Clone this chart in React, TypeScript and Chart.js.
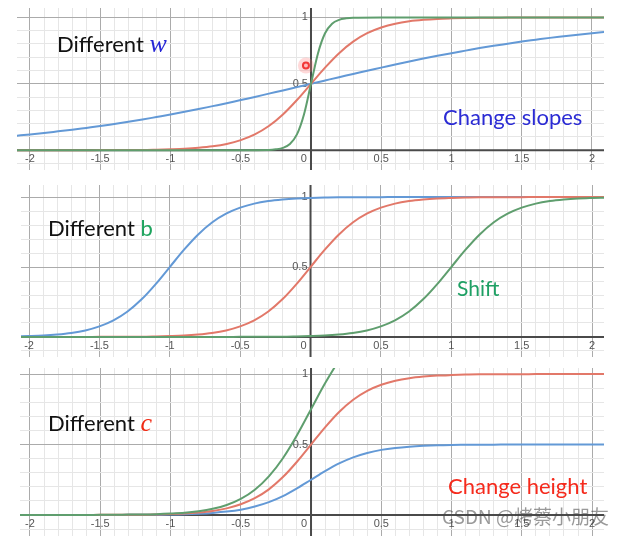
import { useEffect, useRef } from "react";
import Chart from "chart.js/auto";

// ---------- data ----------
const xs = [
  -2.1, -2, -1.9, -1.8, -1.7, -1.6, -1.5, -1.4, -1.3, -1.2, -1.1, -1, -0.9, -0.8, -0.7, -0.6, -0.5, -0.4, -0.3, -0.2, -0.1,
  0, 0.1, 0.2, 0.3, 0.4, 0.5, 0.6, 0.7, 0.8, 0.9, 1, 1.1, 1.2, 1.3, 1.4, 1.5, 1.6, 1.7, 1.8, 1.9, 2, 2.1,
];
const xsSteep = [-2.1, -1, -0.5, -0.3, -0.25, -0.2, -0.15, -0.1, -0.05, 0, 0.05, 0.1, 0.15, 0.2, 0.25, 0.3, 0.5, 1, 2.1];

// Panel 1: different w
const wBlue = [
  0.109, 0.119, 0.13, 0.142, 0.154, 0.168, 0.182, 0.198, 0.214, 0.231, 0.25, 0.269, 0.289, 0.31, 0.332, 0.354, 0.378, 0.401, 0.426, 0.45, 0.475,
  0.5, 0.525, 0.55, 0.574, 0.599, 0.622, 0.646, 0.668, 0.69, 0.711, 0.731, 0.75, 0.769, 0.786, 0.802, 0.818, 0.832, 0.846, 0.858, 0.87, 0.881, 0.891,
];
const wRed = [
  0, 0, 0, 0, 0, 0, 0.001, 0.001, 0.002, 0.002, 0.004, 0.007, 0.011, 0.018, 0.029, 0.047, 0.076, 0.119, 0.182, 0.269, 0.378,
  0.5, 0.622, 0.731, 0.818, 0.881, 0.924, 0.953, 0.971, 0.982, 0.989, 0.993, 0.996, 0.998, 0.998, 0.999, 0.999, 1, 1, 1, 1, 1, 1,
];
const wGreen = [0, 0, 0, 0.002, 0.007, 0.018, 0.047, 0.119, 0.269, 0.5, 0.731, 0.881, 0.953, 0.982, 0.993, 0.998, 1, 1, 1];
const cursorX = [-0.036];
const cursorY = [0.638];

// Panel 2: different b
const bBlue = [
  0.004, 0.007, 0.011, 0.018, 0.029, 0.047, 0.076, 0.119, 0.182, 0.269, 0.378, 0.5, 0.622, 0.731, 0.818, 0.881, 0.924, 0.953, 0.971, 0.982, 0.989,
  0.993, 0.996, 0.998, 0.998, 0.999, 0.999, 1, 1, 1, 1, 1, 1, 1, 1, 1, 1, 1, 1, 1, 1, 1, 1,
];
const bRed = wRed;
const bGreen = [
  0, 0, 0, 0, 0, 0, 0, 0, 0, 0, 0, 0, 0, 0, 0, 0, 0.001, 0.001, 0.002, 0.002, 0.004,
  0.007, 0.011, 0.018, 0.029, 0.047, 0.076, 0.119, 0.182, 0.269, 0.378, 0.5, 0.622, 0.731, 0.818, 0.881, 0.924, 0.953, 0.971, 0.982, 0.989, 0.993, 0.996,
];

// Panel 3: different c
const cBlue = [
  0, 0, 0, 0, 0, 0, 0, 0, 0.001, 0.001, 0.002, 0.003, 0.005, 0.009, 0.015, 0.024, 0.038, 0.06, 0.091, 0.134, 0.189,
  0.25, 0.311, 0.366, 0.409, 0.44, 0.462, 0.476, 0.485, 0.491, 0.495, 0.497, 0.498, 0.499, 0.499, 0.5, 0.5, 0.5, 0.5, 0.5, 0.5, 0.5, 0.5,
];
const cRed = wRed;
const cGreen = [
  0, 0, 0, 0, 0, 0, 0.001, 0.001, 0.003, 0.004, 0.006, 0.01, 0.016, 0.027, 0.044, 0.071, 0.114, 0.179, 0.274, 0.403, 0.566,
  0.75, 0.934, 1.097, 1.227,
];

const xTickValues = [-2, -1.5, -1, -0.5, 0, 0.5, 1, 1.5, 2];
const xTickLabels = ["-2", "-1.5", "-1", "-0.5", "0", "0.5", "1", "1.5", "2"];
const yTickValues = [0.5, 1];
const yTickLabels = ["0.5", "1"];

// ---------- styles ----------
const BLUE = "#6399d6";
const RED = "#e27869";
const GREEN = "#5f9e6e";
const MINOR = "#e6e6e6";
const MAJOR = "#ababab";
const AXIS = "#4a4a4a";
const LABEL = "#555555";
const SANS = 'Lato, "Open Sans", sans-serif';

const pts = (x: number[], y: number[]) => y.map((v, i) => ({ x: x[i], y: v }));

const line = (data: { x: number; y: number }[], color: string) => ({
  data,
  borderColor: color,
  backgroundColor: color,
  borderWidth: 2,
  pointRadius: 0,
  cubicInterpolationMode: "monotone" as const,
  fill: false,
});

type Part = { t: string; font: string; color: string };
type Note = { x: number; y: number; parts: Part[] };

const overlay = {
  id: "overlay",
  beforeDatasetsDraw(chart: any) {
    const { ctx, chartArea: a, scales } = chart;
    const sx = scales.x;
    const sy = scales.y;
    const x0 = sx.getPixelForValue(0);
    const y0 = sy.getPixelForValue(0);
    ctx.save();
    ctx.strokeStyle = AXIS;
    ctx.lineWidth = 2;
    ctx.beginPath();
    ctx.moveTo(a.left, y0);
    ctx.lineTo(a.right, y0);
    ctx.moveTo(x0, a.top);
    ctx.lineTo(x0, a.bottom);
    ctx.stroke();
    ctx.fillStyle = LABEL;
    ctx.font = '11px "Liberation Sans", Arial, sans-serif';
    ctx.textBaseline = "middle";
    xTickValues.forEach((v, i) => {
      const px = sx.getPixelForValue(v);
      if (v === 0) {
        ctx.textAlign = "right";
        ctx.fillText(xTickLabels[i], x0 - 4, y0 + 8.5);
      } else {
        ctx.textAlign = "center";
        ctx.fillText(xTickLabels[i], px, y0 + 8.5);
      }
    });
    ctx.textAlign = "right";
    yTickValues.forEach((v, i) => {
      ctx.fillText(yTickLabels[i], x0 - 3, sy.getPixelForValue(v));
    });
    ctx.restore();
  },
  afterDraw(chart: any, _args: any, opts: any) {
    const { ctx } = chart;
    const notes: Note[] = opts.notes || [];
    const offY: number = opts.offY || 0;
    ctx.save();
    ctx.textBaseline = "alphabetic";
    ctx.textAlign = "left";
    notes.forEach((n) => {
      let cx = n.x;
      n.parts.forEach((p) => {
        ctx.font = p.font;
        ctx.fillStyle = p.color;
        ctx.fillText(p.t, cx, n.y - offY);
        cx += ctx.measureText(p.t).width;
      });
    });
    ctx.restore();
  },
};

type PanelCfg = {
  top: number;
  height: number;
  pad: { left: number; right: number; top: number; bottom: number };
  xMin: number;
  xMax: number;
  yMin: number;
  yMax: number;
  datasets: any[];
  notes: Note[];
};

const isMajor = (v: number) => Math.abs(v * 2 - Math.round(v * 2)) < 1e-6;
const gridColor = (c: any) => {
  const v = c.tick ? c.tick.value : 1;
  if (Math.abs(v) < 1e-9) return "rgba(0,0,0,0)";
  return isMajor(v) ? MAJOR : MINOR;
};

function Panel({ cfg }: { cfg: PanelCfg }) {
  const ref = useRef<HTMLCanvasElement>(null);
  useEffect(() => {
    const chart = new Chart(ref.current as HTMLCanvasElement, {
      type: "line",
      data: { datasets: cfg.datasets },
      options: {
        animation: false,
        responsive: false,
        devicePixelRatio: 1,
        events: [],
        layout: { padding: cfg.pad },
        plugins: {
          legend: { display: false },
          tooltip: { enabled: false },
          overlay: { notes: cfg.notes, offY: cfg.top },
        } as any,
        scales: {
          x: {
            type: "linear",
            min: cfg.xMin,
            max: cfg.xMax,
            ticks: { display: false, stepSize: 0.1, includeBounds: false, autoSkip: false },
            grid: { color: gridColor, lineWidth: 1, drawTicks: false },
            border: { display: false },
          },
          y: {
            type: "linear",
            min: cfg.yMin,
            max: cfg.yMax,
            ticks: { display: false, stepSize: 0.1, includeBounds: false, autoSkip: false },
            grid: { color: gridColor, lineWidth: 1, drawTicks: false },
            border: { display: false },
          },
        },
      },
      plugins: [overlay],
    });
    return () => chart.destroy();
  }, []);
  return (
    <canvas
      ref={ref}
      width={628}
      height={cfg.height}
      style={{ position: "absolute", left: 0, top: cfg.top, width: 628, height: cfg.height }}
    />
  );
}

const panels: PanelCfg[] = [
  {
    top: 0,
    height: 178,
    pad: { left: 17, right: 24, top: 0, bottom: 6 },
    xMin: -2.0925,
    xMax: 2.0855,
    yMin: -0.149,
    yMax: 1.071,
    datasets: [
      {
        data: pts(cursorX, cursorY),
        showLine: false,
        pointRadius: 8,
        pointBorderWidth: 0,
        pointBackgroundColor: "rgba(255,120,120,0.28)",
        borderColor: "rgba(0,0,0,0)",
      },
      {
        data: pts(cursorX, cursorY),
        showLine: false,
        pointRadius: 3,
        pointBorderWidth: 2,
        pointBackgroundColor: "#ffd6d6",
        pointBorderColor: "#ee2020",
      },
      line(pts(xsSteep, wGreen), GREEN),
      line(pts(xs, wRed), RED),
      line(pts(xs, wBlue), BLUE),
    ],
    notes: [
      {
        x: 57,
        y: 52,
        parts: [
          { t: "Different ", font: `22px ${SANS}`, color: "#111111" },
          { t: "w", font: 'italic 26px "Liberation Serif", serif', color: "#2626d6" },
        ],
      },
      { x: 443, y: 125, parts: [{ t: "Change slopes", font: `22px ${SANS}`, color: "#2b2bd4" }] },
    ],
  },
  {
    top: 178,
    height: 182,
    pad: { left: 21, right: 24, top: 7, bottom: 3 },
    xMin: -2.057,
    xMax: 2.085,
    yMin: -0.143,
    yMax: 1.086,
    datasets: [line(pts(xs, bGreen), GREEN), line(pts(xs, bRed), RED), line(pts(xs, bBlue), BLUE)],
    notes: [
      {
        x: 48,
        y: 236,
        parts: [
          { t: "Different ", font: `22px ${SANS}`, color: "#111111" },
          { t: "b", font: `22px ${SANS}`, color: "#1ea45e" },
        ],
      },
      { x: 457, y: 296, parts: [{ t: "Shift", font: `21px ${SANS}`, color: "#1ea064" }] },
    ],
  },
  {
    top: 360,
    height: 176,
    pad: { left: 20, right: 24, top: 8, bottom: 0 },
    xMin: -2.071,
    xMax: 2.085,
    yMin: -0.149,
    yMax: 1.043,
    datasets: [line(pts(xs, cGreen), GREEN), line(pts(xs, cRed), RED), line(pts(xs, cBlue), BLUE)],
    notes: [
      {
        x: 48,
        y: 431,
        parts: [
          { t: "Different ", font: `22px ${SANS}`, color: "#111111" },
          { t: "c", font: 'italic 26px "Liberation Serif", serif', color: "#f02a14" },
        ],
      },
      { x: 448, y: 494, parts: [{ t: "Change height", font: `22px ${SANS}`, color: "#f52a1c" }] },
      {
        x: 442,
        y: 524,
        parts: [{ t: "CSDN @烤蔡小朋友", font: '19px "Noto Sans CJK SC", sans-serif', color: "rgba(70,70,70,0.55)" }],
      },
    ],
  },
];

export default function App() {
  return (
    <div style={{ position: "absolute", left: 0, top: 0, width: 628, height: 536, background: "#ffffff", overflow: "hidden" }}>
      {panels.map((p, i) => (
        <Panel key={i} cfg={p} />
      ))}
    </div>
  );
}
